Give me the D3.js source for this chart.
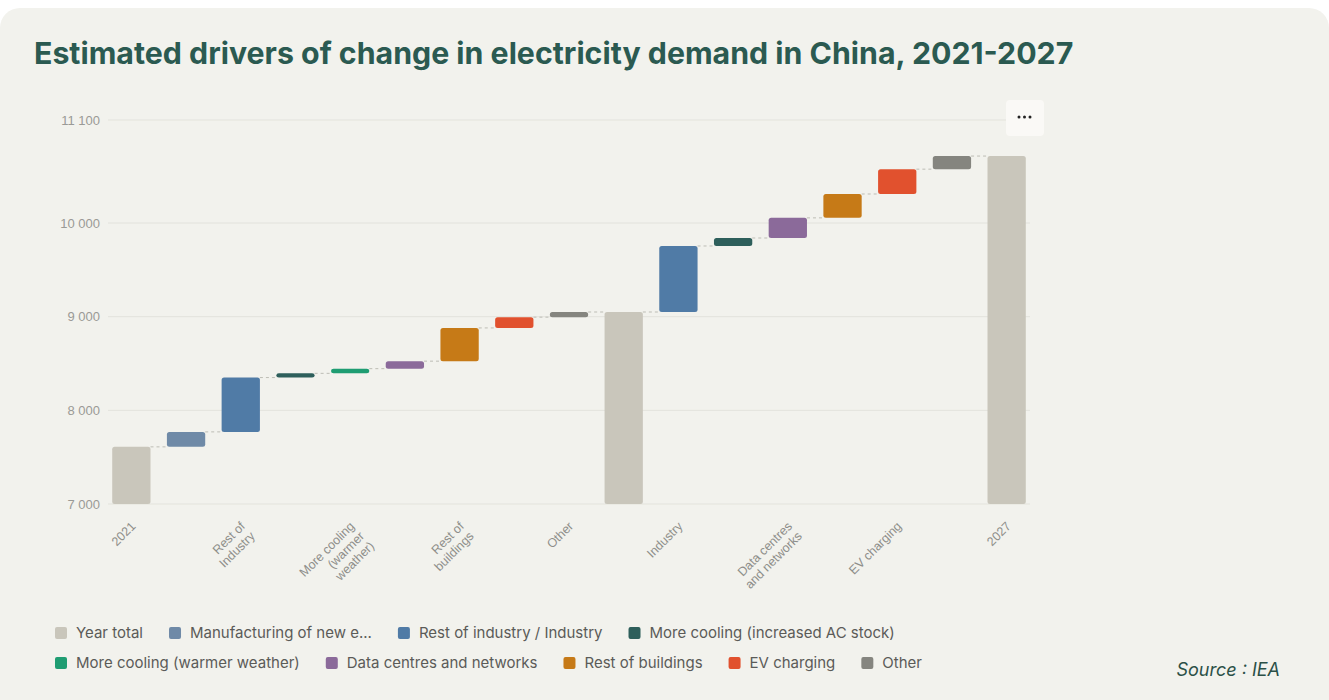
<!DOCTYPE html>
<html>
<head>
<meta charset="utf-8">
<script src="https://cdn.jsdelivr.net/npm/d3@7"></script>
<style>
  html, body { margin: 0; padding: 0; background: #ffffff; }
  svg { display: block; }
</style>
</head>
<body>
<svg id="chart" width="1329" height="700"></svg>
<script>
// ---------------- DATA ----------------
const categories = [
  "2021", "Manufacturing of new energy technologies", "Rest of Industry",
  "More cooling (increased AC stock)", "More cooling (warmer weather)",
  "Data centres and networks", "Rest of buildings", "EV charging", "Other",
  "2024", "Industry", "More cooling (increased AC stock)",
  "Data centres and networks", "Rest of buildings", "EV charging", "Other", "2027"
];
const barTypes = ["total","delta","delta","delta","delta","delta","delta","delta","delta",
                  "total","delta","delta","delta","delta","delta","delta","total"];
const barSeries = [
  "Year total", "Manufacturing of new e...", "Rest of industry / Industry",
  "More cooling (increased AC stock)", "More cooling (warmer weather)",
  "Data centres and networks", "Rest of buildings", "EV charging", "Other",
  "Year total", "Rest of industry / Industry", "More cooling (increased AC stock)",
  "Data centres and networks", "Rest of buildings", "EV charging", "Other", "Year total"
];
const values = [7610, 160, 580, 45, 50, 80, 355, 115, 55,
                9050, 705, 85, 215, 255, 265, 140, 10715];
// x-axis labels shown (every second category), as wrapped lines
const xTickLabels = [
  ["2021"], null, ["Rest of", "Industry"], null, ["More cooling", "(warmer", "weather)"], null,
  ["Rest of", "buildings"], null, ["Other"], null, ["Industry"], null,
  ["Data centres", "and networks"], null, ["EV charging"], null, ["2027"]
];
const yTicks = [7000, 8000, 9000, 10000, 11100];
const legendRow1 = ["Year total", "Manufacturing of new e...", "Rest of industry / Industry",
                    "More cooling (increased AC stock)"];
const legendRow2 = ["More cooling (warmer weather)", "Data centres and networks",
                    "Rest of buildings", "EV charging", "Other"];
const seriesColors = {
  "Year total": "#c9c6bb",
  "Manufacturing of new e...": "#6f8aa7",
  "Rest of industry / Industry": "#507ba6",
  "More cooling (increased AC stock)": "#2e5f5b",
  "More cooling (warmer weather)": "#1f9d72",
  "Data centres and networks": "#8b6a9a",
  "Rest of buildings": "#c67a17",
  "EV charging": "#e1512e",
  "Other": "#85857f"
};
const titleText = "Estimated drivers of change in electricity demand in China, 2021-2027";
const sourceText = "Source : IEA";

// ---------------- LAYOUT ----------------
const W = 1329, H = 700;
const svg = d3.select("#chart");
const plotLeft = 104, plotRight = 1034, plotTop = 120, plotBottom = 504;

// card background
svg.append("rect").attr("x", 0).attr("y", 8).attr("width", W).attr("height", H + 30)
  .attr("rx", 20).attr("fill", "#f2f2ed");

// title
svg.append("text").attr("x", 34).attr("y", 64)
  .attr("font-family", "Inter, 'Noto Sans', sans-serif")
  .attr("font-weight", 700).attr("font-size", 30.3).attr("fill", "#2b5a51")
  .text(titleText);

// scales
const x = d3.scaleBand().domain(d3.range(categories.length))
  .range([plotLeft, plotRight]).paddingInner(0.3).paddingOuter(0.15);
const y = d3.scaleLinear().domain([7000, 11100]).range([plotBottom, plotTop]);

// grid
const gridG = svg.append("g");
gridG.selectAll("line").data(yTicks).join("line")
  .attr("x1", 108).attr("x2", 1030)
  .attr("y1", d => y(d)).attr("y2", d => y(d))
  .attr("stroke", "#e3e3dc").attr("stroke-width", 1);

// y axis (labels only)
const yAxis = d3.axisLeft(y).tickValues(yTicks).tickSize(0).tickPadding(0)
  .tickFormat(d => d3.format(",")(d).replace(/,/g, " "));
const yAxisG = svg.append("g").attr("transform", "translate(100,0)").call(yAxis);
yAxisG.select(".domain").remove();
yAxisG.selectAll("text").attr("font-family", "'Liberation Sans', Arial, sans-serif")
  .attr("font-size", 13).attr("fill", "#9a9a96");

// compute waterfall
let running = 0;
const bars = values.map((v, i) => {
  let start, end;
  if (barTypes[i] === "total") { start = y.domain()[0]; end = v; running = v; }
  else { start = running; end = running + v; running = end; }
  return { i, start, end, series: barSeries[i] };
});

// connectors
const connG = svg.append("g");
bars.slice(0, -1).forEach((b, k) => {
  const nb = bars[k + 1];
  connG.append("line")
    .attr("x1", x(b.i) + x.bandwidth()).attr("x2", x(nb.i))
    .attr("y1", y(b.end)).attr("y2", y(b.end))
    .attr("stroke", "#bdbdb5").attr("stroke-width", 1).attr("stroke-dasharray", "3,3");
});

// bars
svg.append("g").selectAll("rect").data(bars).join("rect")
  .attr("x", d => x(d.i))
  .attr("width", x.bandwidth())
  .attr("y", d => y(Math.max(d.start, d.end)))
  .attr("height", d => Math.max(3, Math.abs(y(d.start) - y(d.end))))
  .attr("rx", 2.5)
  .attr("fill", d => seriesColors[d.series]);

// x labels
const xLab = svg.append("g");
xTickLabels.forEach((lines, i) => {
  if (!lines) return;
  const cx = x(i) + x.bandwidth() / 2 + 5;
  const t = xLab.append("text")
    .attr("transform", `translate(${cx},${plotBottom + 23}) rotate(-45)`)
    .attr("text-anchor", "end")
    .attr("font-family", "'Liberation Sans', Arial, sans-serif")
    .attr("font-size", 12.5).attr("fill", "#8e8e8a");
  lines.forEach((ln, k) => {
    t.append("tspan").attr("x", 0).attr("dy", k === 0 ? 0 : 14).text(ln);
  });
});

// "..." menu button
const btn = svg.append("g").attr("transform", "translate(1006,100)");
btn.append("rect").attr("width", 38).attr("height", 36).attr("rx", 4).attr("fill", "#faf9f6");
btn.selectAll("circle").data([0, 1, 2]).join("circle")
  .attr("cx", d => 13 + d * 5.5).attr("cy", 17).attr("r", 1.5).attr("fill", "#222");

// legend (flow layout)
function drawLegend(items, x0, yc) {
  let xc = x0;
  items.forEach(name => {
    const g = svg.append("g").attr("transform", `translate(${xc},${yc})`);
    g.append("rect").attr("x", 0).attr("y", -6).attr("width", 12).attr("height", 12)
      .attr("rx", 2).attr("fill", seriesColors[name]);
    const t = g.append("text").attr("x", 21).attr("y", 5)
      .attr("font-family", "Inter, 'Noto Sans', sans-serif")
      .attr("font-size", 15).attr("fill", "#5b5b58").text(name);
    xc += 21 + t.node().getComputedTextLength() + 26;
  });
}
drawLegend(legendRow1, 55, 633);
drawLegend(legendRow2, 55, 663);

// source
svg.append("text").attr("x", 1280).attr("y", 676).attr("text-anchor", "end")
  .attr("font-family", "Inter, 'Noto Sans', sans-serif").attr("font-style", "italic")
  .attr("font-size", 18).attr("fill", "#2b5047").text(sourceText);
</script>
</body>
</html>
